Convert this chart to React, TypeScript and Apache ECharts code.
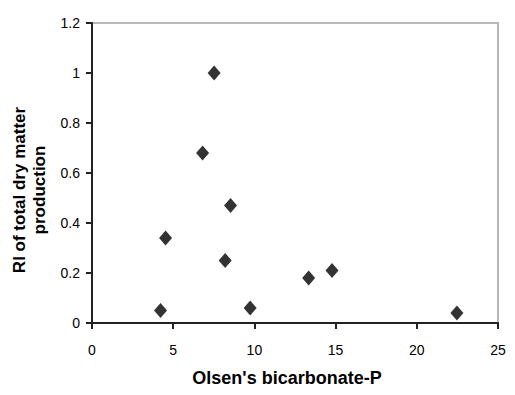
import React, { useEffect, useRef } from "react";
import * as echarts from "echarts";

const olsenP = [7.52, 6.81, 8.53, 4.53, 8.2, 13.34, 14.78, 4.22, 9.74, 22.47];
const riDryMatter = [1.0, 0.68, 0.47, 0.34, 0.25, 0.18, 0.21, 0.05, 0.06, 0.04];
const xTitle = "Olsen's bicarbonate-P";
const yTitle = "RI of total dry matter\nproduction";

const FONT = "'Liberation Sans Narrow', 'Liberation Sans', Arial, sans-serif";

export default function App() {
  const ref = useRef<HTMLDivElement>(null);
  useEffect(() => {
    if (!ref.current) return;
    const chart = echarts.init(ref.current, undefined, { renderer: "svg" });
    const points = olsenP.map((x, i) => [x, riDryMatter[i]]);
    chart.setOption({
      animation: false,
      backgroundColor: "#fff",
      grid: {
        left: 92,
        right: 17,
        top: 23,
        bottom: 72,
        containLabel: false,
        outerBoundsMode: "none",
        show: true,
        borderColor: "#b8b8b8",
        borderWidth: 2,
      },
      xAxis: {
        type: "value",
        min: 0,
        max: 25,
        interval: 5,
        name: xTitle,
        nameLocation: "middle",
        nameGap: 46,
        nameTextStyle: {
          fontFamily: FONT,
          fontSize: 18,
          fontWeight: "bold",
          color: "#000",
          padding: [0, 16, 0, 0],
        },
        axisLine: { show: true, onZero: false, lineStyle: { color: "#222", width: 2 } },
        axisTick: { show: true, inside: false, length: 6, lineStyle: { color: "#222", width: 2 } },
        axisLabel: { fontFamily: FONT, fontSize: 14, color: "#000", margin: 20 },
        splitLine: { show: false },
      },
      yAxis: {
        type: "value",
        min: 0,
        max: 1.2,
        interval: 0.2,
        name: yTitle,
        nameLocation: "middle",
        nameGap: 40,
        nameRotate: 90,
        nameTextStyle: {
          fontFamily: FONT,
          fontSize: 17,
          fontWeight: "bold",
          color: "#000",
          lineHeight: 20,
          padding: [0, 34, 0, 0],
        },
        axisLine: { show: true, lineStyle: { color: "#222", width: 2 } },
        axisTick: { show: true, inside: false, length: 6, lineStyle: { color: "#222", width: 2 } },
        axisLabel: {
          fontFamily: FONT,
          fontSize: 14,
          color: "#000",
          margin: 12,
          formatter: (v: number) => String(Math.round(v * 10) / 10),
        },
        splitLine: { show: false },
      },
      series: [
        {
          type: "scatter",
          data: points,
          symbol: "diamond",
          symbolSize: [13, 15],
          itemStyle: { color: "#000" },
        },
      ],
    });
    return () => chart.dispose();
  }, []);
  return <div ref={ref} style={{ width: 515, height: 395, margin: -8 }} />;
}
